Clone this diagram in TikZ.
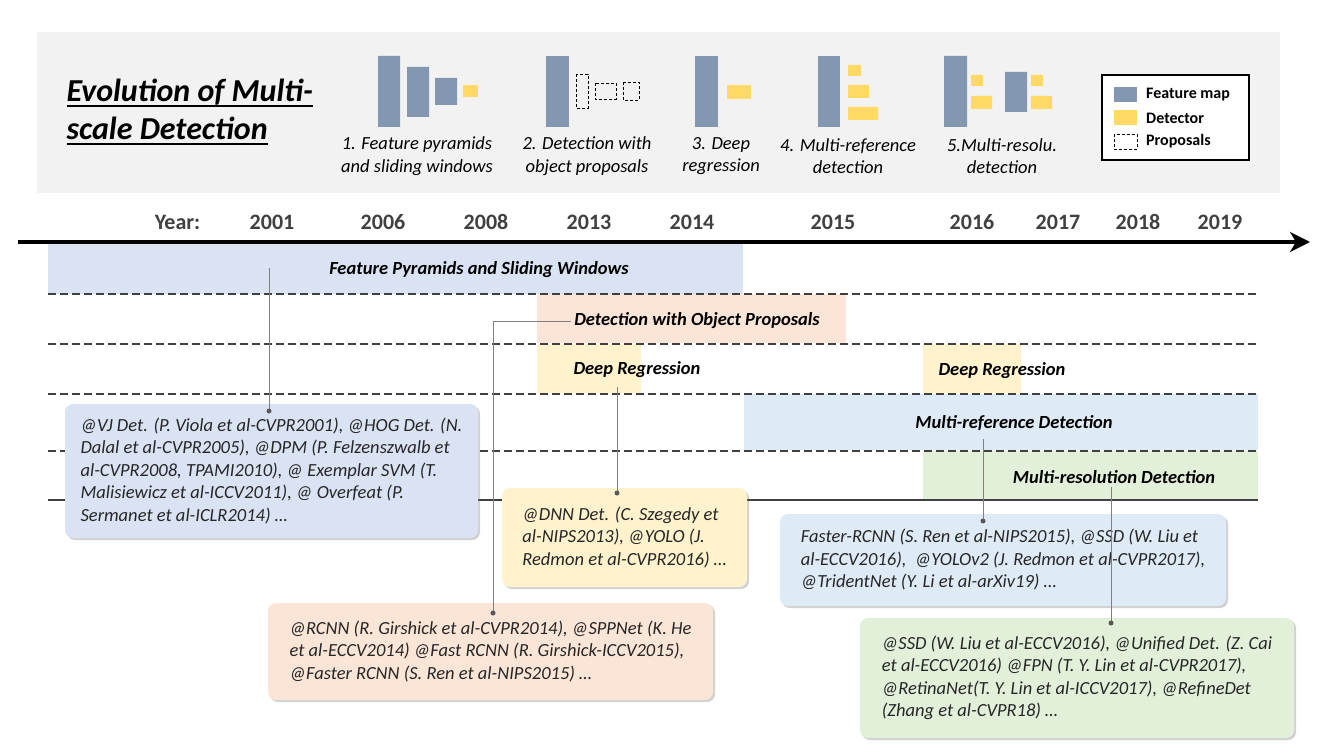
\documentclass[tikz,border=0pt]{standalone}
\usepackage{fontspec}
\setmainfont{Carlito}
\newsavebox{\titlebox}
\newcommand{\titleul}[1]{\sbox{\titlebox}{#1}\rlap{\rule[-5pt]{\wd\titlebox}{1.8pt}}\usebox{\titlebox}}
\usetikzlibrary{arrows.meta,shadows}
\definecolor{hdrgray}{HTML}{F2F2F2}
\definecolor{fmapblue}{HTML}{8497B0}
\definecolor{detyellow}{HTML}{FFD966}
\definecolor{pyrblue}{HTML}{DAE3F3}
\definecolor{propred}{HTML}{FBE5D6}
\definecolor{regyellow}{HTML}{FFF2CC}
\definecolor{refblue}{HTML}{DEEBF7}
\definecolor{resgreen}{HTML}{E2F0D9}
\definecolor{yeargray}{HTML}{404040}
\definecolor{leadgray}{HTML}{808080}
\tikzset{
	fmap/.style={fill=fmapblue},
	det/.style={fill=detyellow},
	prop/.style={draw=black, line width=0.9pt, dash pattern=on 3pt off 2pt},
	stagecap/.style={font=\fontsize{18.5}{22.5}\selectfont\itshape, align=center},
	legtext/.style={font=\fontsize{16}{19}\selectfont\bfseries, anchor=west, inner sep=0pt},
	year/.style={font=\fontsize{22}{26}\selectfont\bfseries, text=yeargray},
	band/.style={font=\fontsize{18.5}{22}\selectfont\bfseries\itshape},
	lane/.style={draw=yeargray, line width=1.6pt, dash pattern=on 8pt off 4pt},
	note/.style={rounded corners=8pt, align=left, inner sep=0pt, text=black!85,
		font=\fontsize{18.5}{22.5}\selectfont\itshape,
		drop shadow={shadow xshift=2pt, shadow yshift=-2pt, opacity=0.3, fill=black!60}},
	lead/.style={draw=leadgray, line width=1pt},
	dot/.style={circle, fill=black!65, inner sep=0pt, minimum size=5pt}
}
\begin{document}
\begin{tikzpicture}[x=1pt, y=-1pt]
	\useasboundingbox (0,0) rectangle (1329,754);
	% Kopfzeile
	\fill[hdrgray] (37,32) rectangle (1280,193);
	\node[anchor=west, align=left, font=\fontsize{32}{38}\selectfont\bfseries\itshape] (title) at (63,112)
		{\titleul{Evolution of Multi-}\\\titleul{scale Detection}};
	% 1. pyramids
	\fill[fmap] (378,56) rectangle (400,127)
		(407,67) rectangle (429,117)
		(435,78) rectangle (457,105);
	\fill[det] (463,85) rectangle (478,97);
	\node[stagecap] (cap1) at (417,156) {1. Feature pyramids\\and sliding windows};
	% 2. proposals
	\fill[fmap] (546,56) rectangle (569,127);
	\draw[prop] (576,74) rectangle (588,108)
		(595,83) rectangle (616,99)
		(623,82) rectangle (639,100);
	\node[stagecap] (cap2) at (587,156) {2. Detection with\\object proposals};
	% 3. regression
	\fill[fmap] (695,56) rectangle (718,127);
	\fill[det] (727,85) rectangle (751,99);
	\node[stagecap] (cap3) at (721,156) {3. Deep\\regression};
	% 4. multi-reference
	\fill[fmap] (818,56) rectangle (840,127);
	\fill[det] (848,65) rectangle (861,76)
		(848,85) rectangle (869,98)
		(848,107) rectangle (878,120);
	\node[stagecap] (cap4) at (848,156) {4. Multi-reference\\detection};
	% 5. multi-resolution
	\fill[fmap] (944,56) rectangle (967,127)
		(1005,72) rectangle (1027,112);
	\fill[det] (971,75) rectangle (983,86)
		(971,96) rectangle (992,109)
		(1031,75) rectangle (1043,86)
		(1031,96) rectangle (1052,109);
	\node[stagecap] (cap5) at (1002,156) {5.Multi-resolu.\\detection};
	% Legende
	\draw[line width=1.5pt, fill=white] (1102,75) rectangle (1249,160);
	\fill[fmap] (1114,87) rectangle (1137,102);
	\fill[det] (1114,110) rectangle (1137,125);
	\draw[prop] (1114,134) rectangle (1137,149);
	\node[legtext] (legfmap) at (1146,94.5) {Feature map};
	\node[legtext] (legdet) at (1146,118) {Detector};
	\node[legtext] (legprop) at (1146,141.5) {Proposals};
	% Zeitachse
	\node[year] (yearlbl) at (177.5,222) {Year:};
	\node[year] (y2001) at (272,222) {2001};
	\node[year] (y2006) at (383,222) {2006};
	\node[year] (y2008) at (486,222) {2008};
	\node[year] (y2013) at (589,222) {2013};
	\node[year] (y2014) at (692,222) {2014};
	\node[year] (y2015) at (833,222) {2015};
	\node[year] (y2016) at (972,222) {2016};
	\node[year] (y2017) at (1058,222) {2017};
	\node[year] (y2018) at (1138,222) {2018};
	\node[year] (y2019) at (1220,222) {2019};
	\coordinate (tstart) at (18,242);
	\coordinate (tend) at (1310,242);
	\draw[line width=4pt, -{Stealth[length=20pt, width=20pt, inset=6pt]}] (tstart) -- (tend);
	% Baender
	\fill[pyrblue] (48,244) rectangle (743,294);
	\fill[propred] (537,294) rectangle (846,343);
	\fill[regyellow] (537,344) rectangle (641,393)
		(923,344) rectangle (1021,393);
	\fill[refblue] (744,394) rectangle (1258,450);
	\fill[resgreen] (923,451) rectangle (1258,500);
	\draw[lane] (48,294) -- (1258,294)
		(48,344) -- (1258,344)
		(48,394) -- (1258,394)
		(48,451) -- (1258,451);
	\draw[draw=yeargray, line width=1.6pt] (48,500) -- (1258,500);
	\node[band] (pyrlbl) at (479,270) {Feature Pyramids and Sliding Windows};
	\node[band] (proplbl) at (697,321) {Detection with Object Proposals};
	\node[band] (reglbl) at (637,370) {Deep Regression};
	\node[band] (reglbltwo) at (1002,371) {Deep Regression};
	\node[band] (reflbl) at (1014,423) {Multi-reference Detection};
	\node[band] (reslbl) at (1114,477) {Multi-resolution Detection};
	% Anmerkungen
	\node[note, fill=pyrblue, minimum width=413pt, minimum height=134pt] (vjnote) at (271.5,471)
		{@VJ Det. (P. Viola et al-CVPR2001), @HOG Det. (N.\\Dalal et al-CVPR2005), @DPM (P. Felzenszwalb et\\al-CVPR2008, TPAMI2010), @ Exemplar SVM (T.\\Malisiewicz et al-ICCV2011), @ Overfeat (P.\\Sermanet et al-ICLR2014) …};
	\node[note, fill=regyellow, minimum width=245pt, minimum height=99pt] (dnnnote) at (624.5,537.5)
		{@DNN Det. (C. Szegedy et\\al-NIPS2013), @YOLO (J.\\Redmon et al-CVPR2016) …};
	\node[note, fill=propred, minimum width=445pt, minimum height=97pt] (rcnnnote) at (490.5,651.5)
		{@RCNN (R. Girshick et al-CVPR2014), @SPPNet (K. He\\et al-ECCV2014) @Fast RCNN (R. Girshick-ICCV2015),\\@Faster RCNN (S. Ren et al-NIPS2015) …};
	\node[note, fill=refblue, minimum width=446pt, minimum height=92pt] (refnote) at (1003,560)
		{Faster-RCNN (S. Ren et al-NIPS2015), @SSD (W. Liu et\\al-ECCV2016),\ \ @YOLOv2 (J. Redmon et al-CVPR2017),\\@TridentNet (Y. Li et al-arXiv19) …};
	\node[note, fill=resgreen, minimum width=434pt, minimum height=120pt] (resnote) at (1077,678)
		{@SSD (W. Liu et al-ECCV2016), @Unified Det. (Z. Cai\\et al-ECCV2016) @FPN (T. Y. Lin et al-CVPR2017),\\@RetinaNet(T. Y. Lin et al-ICCV2017), @RefineDet\\(Zhang et al-CVPR18) …};
	% Verbindungen
	\coordinate (vjlead) at (269,268);
	\coordinate (vjdot) at (269,411);
	\coordinate (dnnlead) at (617,387);
	\coordinate (dnndot) at (617,493);
	\coordinate (rcnndot) at (493,613);
	\coordinate (reflead) at (983,439);
	\coordinate (refdot) at (983,521);
	\coordinate (reslead) at (1111,487);
	\coordinate (resdot) at (1111,623);
	\draw[lead] (vjlead) -- (vjdot) node[dot] {};
	\draw[lead] (dnnlead) -- (dnndot) node[dot] {};
	\draw[lead] (proplbl.west) -- (proplbl.west -| rcnndot) -- (rcnndot) node[dot] {};
	\draw[lead] (reflead) -- (refdot) node[dot] {};
	\draw[lead] (reslead) -- (resdot) node[dot] {};
\end{tikzpicture}
\end{document}
